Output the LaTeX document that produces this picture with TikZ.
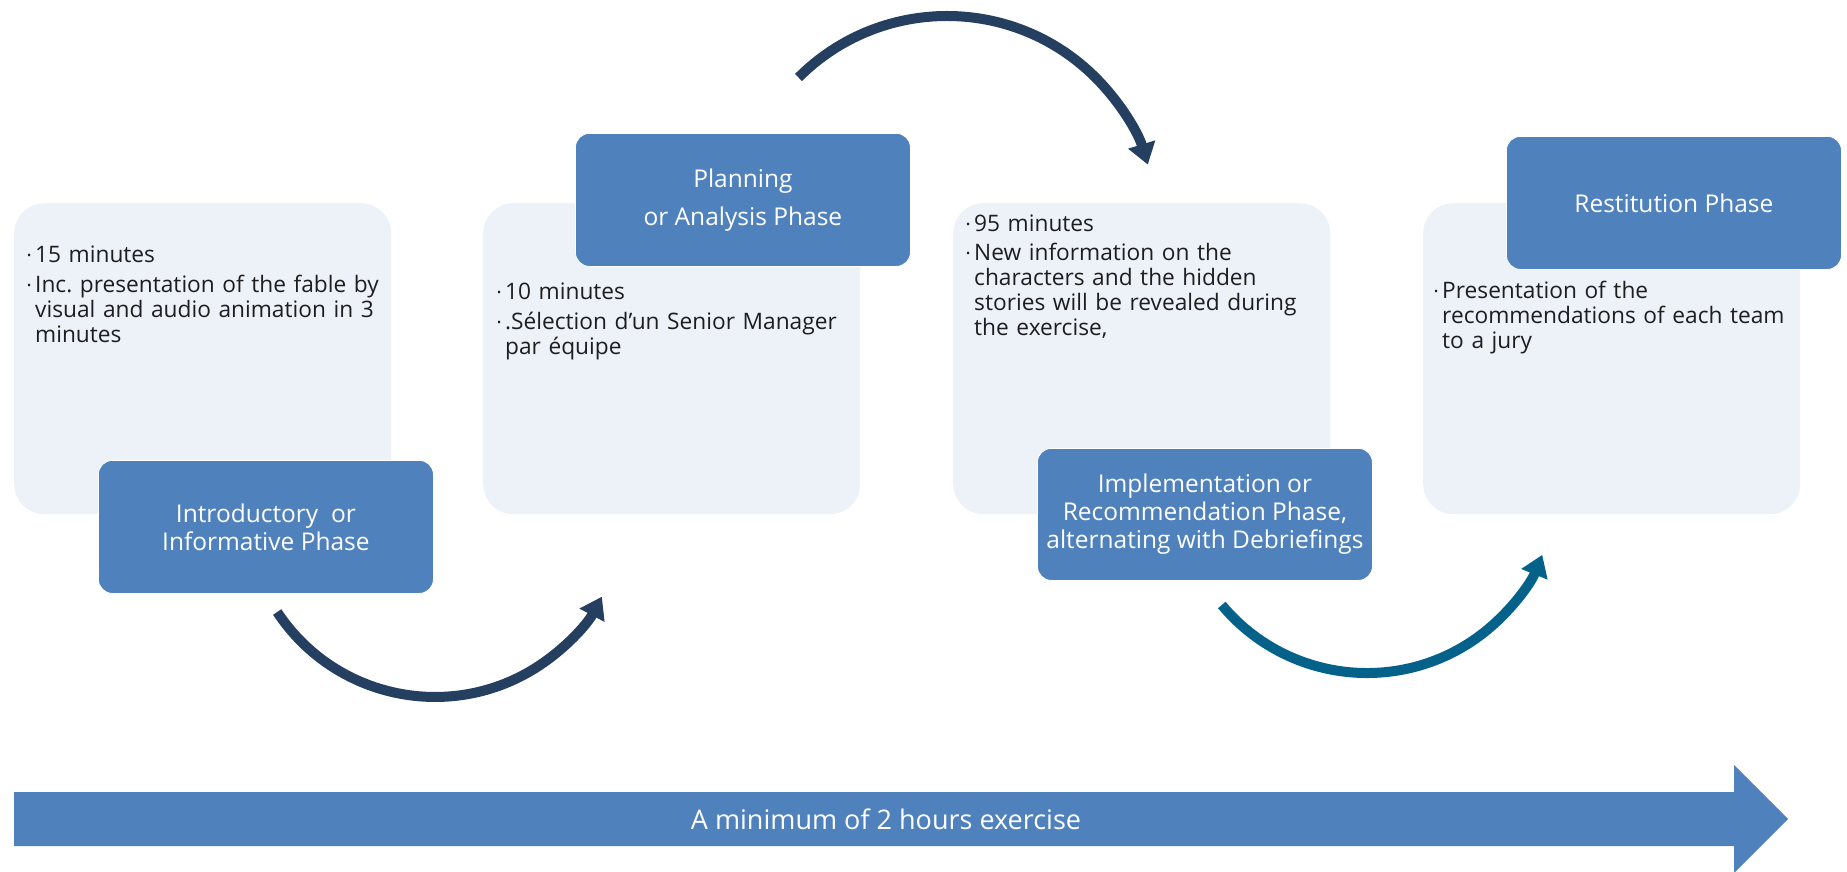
\documentclass[tikz,border=0pt]{standalone}
\usepackage{fontspec}
\setmainfont{Open Sans}
\usetikzlibrary{arrows.meta}
\definecolor{phase}{HTML}{4F81BD}
\definecolor{panel}{HTML}{EDF2F9}
\definecolor{navy}{HTML}{243F60}
\definecolor{tealarrow}{HTML}{04628A}
\definecolor{bodytext}{HTML}{1E1E1E}
\newcommand{\bu}{\makebox[8pt][l]{\raisebox{3pt}{\fontsize{11}{11}\selectfont •}}}
\newcommand{\ind}{\hspace*{8pt}}
\frenchspacing
\begin{document}
\begin{tikzpicture}[x=1pt,y=-1pt,
  panelbox/.style={fill=panel, rounded corners=30pt, minimum width=377pt, minimum height=311pt, anchor=north west, inner sep=0pt},
  phasebox/.style={fill=phase, draw=white, line width=0.8pt, rounded corners=14pt, minimum width=335pt, minimum height=133pt, anchor=north west, inner sep=0pt, text=white, align=center, font=\fontsize{24.5}{28}\selectfont},
  bullets/.style={anchor=base west, text width=370pt, align=left, inner sep=0pt, text=bodytext, font=\fontsize{22.7}{25}\selectfont},
  curvearrow/.style={line width=10pt, -{Triangle[width=27pt,length=21pt]}},
]
\useasboundingbox (0,0) rectangle (1847,872);

% panels
\node[panelbox] (l1) at (14,203) {};
\node[panelbox] (l2) at (483,203) {};
\node[panelbox] (l3) at (953,203) {};
\node[panelbox] (l4) at (1423,203) {};

% bullet texts
\node[bullets] (t1) at (27,262) {\bu 15 minutes\\[5pt]\bu Inc. presentation of the fable by\\\ind visual and audio animation in 3\\\ind minutes};
\node[bullets] (t2) at (497,299) {\bu 10 minutes\\[5pt]\bu .Sélection d’un Senior Manager\\\ind par équipe};
\node[bullets] (t3) at (966,231) {\bu 95 minutes\\[4pt]\bu New information on the\\\ind characters and the hidden\\\ind stories will be revealed during\\\ind the exercise,};
\node[bullets] (t4) at (1434,298) {\bu Presentation of the\\\ind recommendations of each team\\\ind to a jury};

% phase boxes
\node[phasebox] (d1) at (98,460) {Introductory~ or\\Informative Phase};
\node[phasebox] (d2) at (575,133) {Planning\\[10pt]or Analysis Phase};
\node[phasebox, minimum height=132pt] (d3) at (1037,448) {Implementation or\\Recommendation Phase,\\alternating with Debriefings};
\node[phasebox] (d4) at (1506,136) {Restitution Phase};

% curved arrows
\coordinate (a1s) at (277.2,612);
\coordinate (a2s) at (798.5,77.5);
\coordinate (a3s) at (1221.8,605);
\draw[curvearrow, navy] (a1s) arc[start angle=146.6, end angle=28, radius=189];
\draw[curvearrow, navy] (a2s) arc[start angle=-135, end angle=-17, radius=210];
\draw[curvearrow, tealarrow] (a3s) arc[start angle=140.2, end angle=22, radius=189];

% timeline arrow
\fill[phase] (14,792) -- (1734,792) -- (1734,765) -- (1788,819) -- (1734,873) -- (1734,846) -- (14,846) -- cycle;
\node[text=white, font=\fontsize{27}{30}\selectfont] (span) at (886,819) {A minimum of 2 hours exercise};
\end{tikzpicture}
\end{document}
